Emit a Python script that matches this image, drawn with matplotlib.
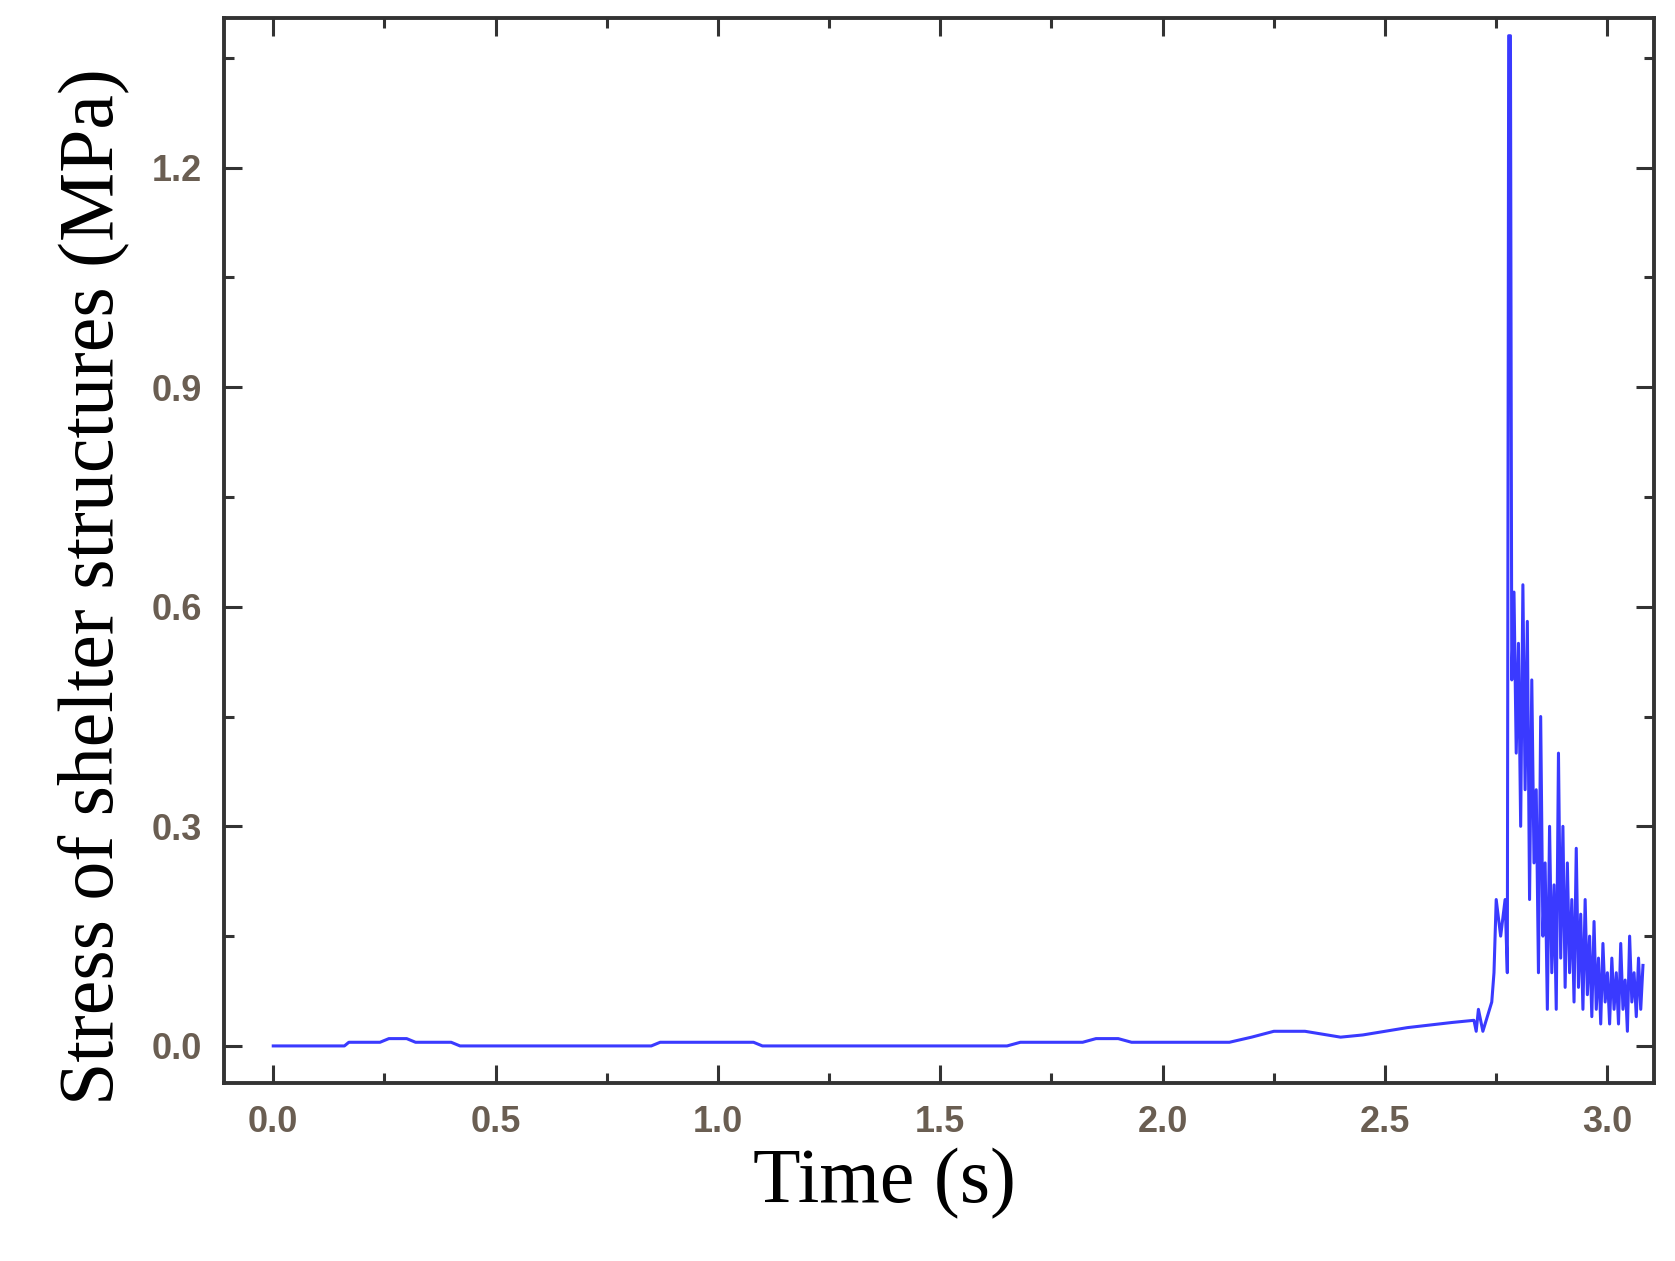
import matplotlib
matplotlib.use("Agg")
import matplotlib.pyplot as plt
from matplotlib.ticker import MultipleLocator, FormatStrFormatter

time_s = [0, 0.16, 0.17, 0.24, 0.26, 0.30, 0.32, 0.40, 0.42, 0.85, 0.87, 1.08, 1.10, 1.65, 1.68, 1.82, 1.85,
          1.90, 1.93, 2.15, 2.20, 2.25, 2.32, 2.40, 2.45, 2.55, 2.65, 2.70, 2.705, 2.71, 2.72, 2.73, 2.74,
          2.745, 2.75, 2.76, 2.77, 2.775, 2.778, 2.782, 2.785, 2.79, 2.795, 2.80, 2.805, 2.81, 2.815, 2.82,
          2.825, 2.83, 2.835, 2.84, 2.845, 2.85, 2.855, 2.86, 2.865, 2.87, 2.875, 2.88, 2.885, 2.89, 2.895,
          2.90, 2.905, 2.91, 2.915, 2.92, 2.925, 2.93, 2.935, 2.94, 2.945, 2.95, 2.955, 2.96, 2.965, 2.97,
          2.975, 2.98, 2.985, 2.99, 2.995, 3.0, 3.005, 3.01, 3.015, 3.02, 3.025, 3.03, 3.035, 3.04, 3.045,
          3.05, 3.055, 3.06, 3.065, 3.07, 3.075, 3.08]
stress_mpa = [0, 0, 0.005, 0.005, 0.01, 0.01, 0.005, 0.005, 0, 0, 0.005, 0.005, 0, 0, 0.005, 0.005, 0.01,
              0.01, 0.005, 0.005, 0.012, 0.02, 0.02, 0.012, 0.015, 0.025, 0.032, 0.035, 0.02, 0.05, 0.02, 0.04, 0.06,
              0.1, 0.2, 0.15, 0.2, 0.1, 1.38, 1.38, 0.5, 0.62, 0.4, 0.55, 0.3, 0.63, 0.35, 0.58,
              0.2, 0.5, 0.25, 0.35, 0.1, 0.45, 0.15, 0.25, 0.05, 0.3, 0.1, 0.22, 0.05, 0.4, 0.12,
              0.3, 0.08, 0.25, 0.1, 0.2, 0.06, 0.27, 0.08, 0.18, 0.05, 0.2, 0.07, 0.15, 0.04, 0.17,
              0.05, 0.12, 0.03, 0.14, 0.06, 0.1, 0.03, 0.12, 0.05, 0.1, 0.03, 0.14, 0.05, 0.09, 0.02,
              0.15, 0.06, 0.1, 0.04, 0.12, 0.05, 0.11]

W, H = 1568, 1180
fig = plt.figure(figsize=(16.75, 12.61), dpi=100)
ax = fig.add_axes([210/W, 1-1013/H, (1548-210)/W, (1013-17)/H])
ax.plot(time_s, stress_mpa, color='#3a3aff', lw=2.2)
ax.set_xlim(-0.11, 3.104)
ax.set_ylim(-0.05, 1.404)
ax.xaxis.set_major_locator(MultipleLocator(0.5))
ax.xaxis.set_minor_locator(MultipleLocator(0.25))
ax.yaxis.set_major_locator(MultipleLocator(0.3))
ax.yaxis.set_minor_locator(MultipleLocator(0.15))
ax.tick_params(which='both', direction='in', top=True, right=True, width=2.2, color='#333333')
ax.tick_params(which='major', length=13)
ax.tick_params(which='minor', length=7)
ax.tick_params(labelsize=26, labelcolor='#6a5e52', pad=16)
ax.xaxis.set_major_formatter(FormatStrFormatter('%.1f'))
ax.yaxis.set_major_formatter(FormatStrFormatter('%.1f'))
for lab in ax.get_xticklabels() + ax.get_yticklabels():
    lab.set_family('Liberation Sans')
    lab.set_weight('bold')
for s in ax.spines.values():
    s.set_linewidth(2.8); s.set_color('#333333')
ax.set_xlabel('Time (s)', fontsize=56, family='Liberation Serif', labelpad=6)
ax.set_ylabel('Stress of shelter structures (MPa)', fontsize=56, family='Liberation Serif', labelpad=16)
ax.xaxis.set_label_coords(0.463, -0.06, transform=None) if False else ax.xaxis.label.set_x(0.462)
ax.yaxis.label.set_y(0.466)
fig.savefig('out.png', dpi=100, facecolor='white')
